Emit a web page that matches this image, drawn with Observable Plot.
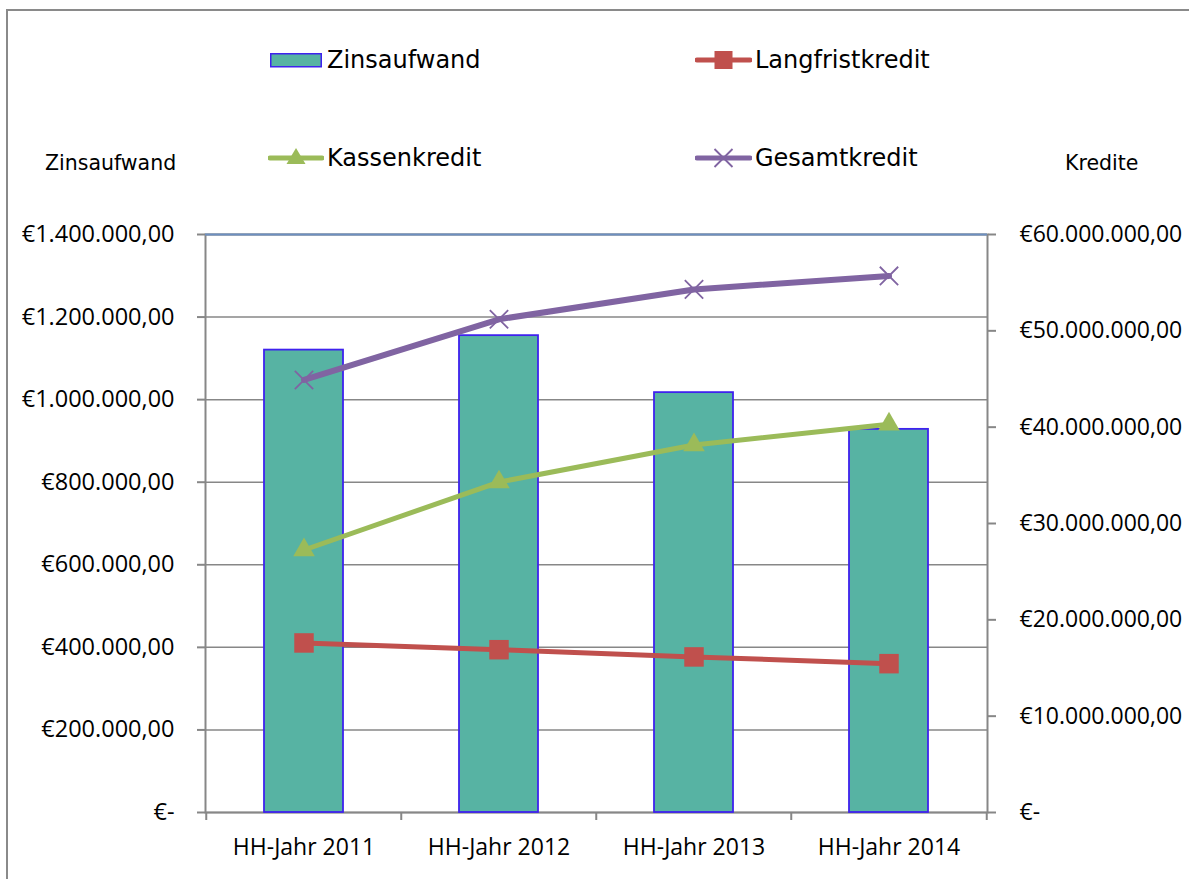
<!DOCTYPE html>
<html>
<head>
<meta charset="utf-8">
<script src="https://cdn.jsdelivr.net/npm/d3@7"></script>
<script src="https://cdn.jsdelivr.net/npm/@observablehq/plot@0.6"></script>
<style>
  body { margin: 0; background: #fff; }
  #wrap { position: relative; width: 1189px; height: 879px; overflow: hidden; background: #fff; }
  #frame { position: absolute; left: 6px; top: 9px; width: 1400px; height: 1000px;
           border-left: 2px solid #8a8a8a; border-top: 2px solid #8a8a8a; }
  #chart { position: absolute; left: 0; top: 0; }
  .leg { position: absolute; height: 40px; display: flex; align-items: center;
         font-family: "DejaVu Sans", sans-serif; font-size: 24px; color: #000; white-space: nowrap; }
  .leg span { margin-left: 3px; }
  .ttl { position: absolute; height: 30px; display: flex; align-items: center;
         font-family: "DejaVu Sans", sans-serif; font-size: 20.5px; color: #000; white-space: nowrap; }
</style>
</head>
<body>
<div id="wrap">
  <div id="frame"></div>
  <div id="chart"></div>
  <div id="legend"></div>
</div>
<script>
// ---- data ----
const years = ["HH-Jahr 2011", "HH-Jahr 2012", "HH-Jahr 2013", "HH-Jahr 2014"];
const zinsaufwand = [1120000, 1155000, 1017000, 928000];
const langfristkredit = [17600000, 16900000, 16150000, 15450000];
const kassenkredit = [27250000, 34300000, 38150000, 40300000];
const gesamtkredit = [44900000, 51200000, 54300000, 55700000];
const leftTicks = [0, 200000, 400000, 600000, 800000, 1000000, 1200000, 1400000];
const rightTicks = [0, 10000000, 20000000, 30000000, 40000000, 50000000, 60000000];
const leftMax = 1400000;
const rightMax = 60000000;
const seriesNames = ["Zinsaufwand", "Langfristkredit", "Kassenkredit", "Gesamtkredit"];
const axisTitles = ["Zinsaufwand", "Kredite"];

// ---- helpers ----
const k = leftMax / rightMax;
const locale = d3.formatLocale({decimal: ",", thousands: ".", grouping: [3], currency: ["€", ""]});
const money = locale.format("$,.2f");
const fmt = v => Math.abs(v) < 0.5 ? "€-" : money(Math.round(v));

const bars = years.map((y, i) => ({year: y, value: zinsaufwand[i]}));
const mk = arr => years.map((y, i) => ({year: y, value: arr[i]}));
const lang = mk(langfristkredit), kass = mk(kassenkredit), ges = mk(gesamtkredit);
const yk = d => d.value * k;

const colors = {bar: "#57b3a3", barStroke: "#3f22ee", lang: "#c0504d", kass: "#9bbb59", ges: "#8064a2", axis: "#878787", top: "#6d8fc0"};
const step = (1189 - 205 - 202) / years.length;

const chart = Plot.plot({
  width: 1189, height: 879,
  marginLeft: 205, marginRight: 202, marginTop: 234, marginBottom: 67,
  style: {fontFamily: "'Open Sans', sans-serif", fontSize: "23px", background: "transparent", color: "#000"},
  x: {domain: years, type: "band", paddingInner: 0.596, paddingOuter: 0.298, label: null},
  y: {domain: [0, leftMax], label: null},
  marks: [
    Plot.gridY(leftTicks, {stroke: colors.axis, strokeOpacity: 1, strokeWidth: 1.5}),
    Plot.frame({stroke: colors.axis, strokeWidth: 2}),
    Plot.ruleY([leftMax], {stroke: colors.top, strokeWidth: 2}),
    Plot.ruleX(years, {dx: -step / 2, insetTop: 578, insetBottom: -8, stroke: colors.axis, strokeWidth: 2}),
    Plot.ruleX([years[years.length - 1]], {dx: step / 2, insetTop: 578, insetBottom: -8, stroke: colors.axis, strokeWidth: 2}),
    Plot.axisY({ticks: leftTicks, tickFormat: fmt, tickSize: 8, tickPadding: 23, fontSize: 23.5, stroke: colors.axis, strokeWidth: 2, label: null}),
    Plot.axisY({anchor: "right", ticks: rightTicks.map(v => v * k), tickFormat: d => fmt(d / k), tickSize: 8, tickPadding: 24, stroke: colors.axis, strokeWidth: 2, label: null}),
    Plot.axisX({tickSize: 0, tickPadding: 26, label: null}),
    Plot.barY(bars, {x: "year", y: "value", fill: colors.bar, stroke: colors.barStroke, strokeWidth: 1.8}),
    Plot.line(lang, {x: "year", y: yk, stroke: colors.lang, strokeWidth: 5}),
    Plot.dot(lang, {x: "year", y: yk, symbol: "square", r: 11, fill: colors.lang, stroke: "none"}),
    Plot.line(kass, {x: "year", y: yk, stroke: colors.kass, strokeWidth: 5}),
    Plot.dot(kass, {x: "year", y: yk, symbol: "triangle", r: 8, fill: colors.kass, stroke: "none"}),
    Plot.line(ges, {x: "year", y: yk, stroke: colors.ges, strokeWidth: 6}),
    Plot.dot(ges, {x: "year", y: yk, symbol: "times", r: 8.4, fill: "none", stroke: colors.ges, strokeWidth: 1.8})
  ]
});
document.getElementById("chart").appendChild(chart);

// ---- legend & axis titles ----
const legend = document.getElementById("legend");
const items = [
  {name: seriesNames[0], left: 268, cy: 60, svg: `<svg width="56" height="40"><rect x="2.75" y="13.75" width="50.5" height="13" fill="${colors.bar}" stroke="${colors.barStroke}" stroke-width="1.5"/></svg>`},
  {name: seriesNames[1], left: 695, cy: 60, svg: `<svg width="57" height="40"><line x1="2" y1="20" x2="55" y2="20" stroke="${colors.lang}" stroke-width="5" stroke-linecap="round"/><rect x="19.5" y="11" width="18" height="18" fill="${colors.lang}"/></svg>`},
  {name: seriesNames[2], left: 268, cy: 158, svg: `<svg width="56" height="40"><line x1="2" y1="20" x2="54" y2="20" stroke="${colors.kass}" stroke-width="5" stroke-linecap="round"/><path d="M28,10 L37.5,26 L18.5,26 Z" fill="${colors.kass}"/></svg>`},
  {name: seriesNames[3], left: 695, cy: 158, svg: `<svg width="57" height="40"><line x1="2" y1="20" x2="55" y2="20" stroke="${colors.ges}" stroke-width="5" stroke-linecap="round"/><path d="M19.5,11 L37.5,29 M37.5,11 L19.5,29" stroke="${colors.ges}" stroke-width="1.8"/></svg>`}
];
for (const it of items) {
  const d = document.createElement("div");
  d.className = "leg";
  d.style.left = it.left + "px";
  d.style.top = (it.cy - 20) + "px";
  d.innerHTML = it.svg + `<span>${it.name}</span>`;
  legend.appendChild(d);
}
const titles = [{t: axisTitles[0], left: 45, cy: 163}, {t: axisTitles[1], left: 1065, cy: 163}];
for (const tt of titles) {
  const d = document.createElement("div");
  d.className = "ttl";
  d.style.left = tt.left + "px";
  d.style.top = (tt.cy - 15) + "px";
  d.textContent = tt.t;
  legend.appendChild(d);
}
</script>
</body>
</html>
